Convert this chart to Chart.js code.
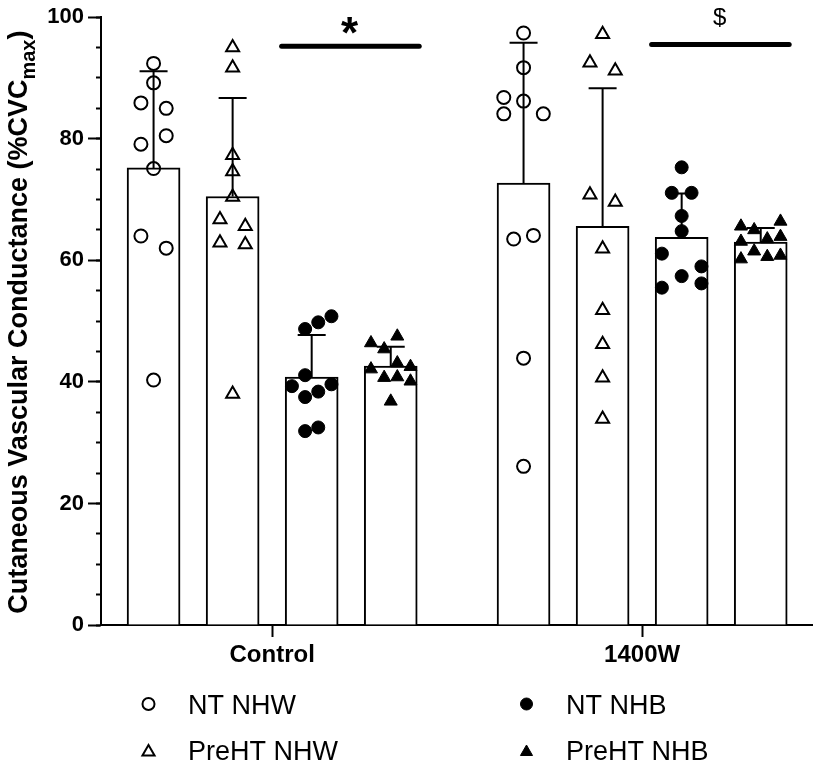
<!doctype html>
<html lang="en">
<head>
<meta charset="utf-8">
<title>Cutaneous Vascular Conductance</title>
<script src="https://cdn.jsdelivr.net/npm/chart.js@4/dist/chart.umd.min.js"></script>
<style>
  * { margin: 0; padding: 0; }
  body { background: #fff; }
  #wrap { width: 822px; height: 768px; }
</style>
</head>
<body>
<div id="wrap"><canvas id="myChart" width="822" height="768"></canvas></div>
<script>
// categories and series
const groups = ['Control', '1400W'];
const seriesNames = ['NT NHW', 'PreHT NHW', 'NT NHB', 'PreHT NHB'];

// bar means [Control, 1400W]
const meanNTNHW = [75.2, 72.7];
const meanPreHTNHW = [70.5, 65.6];
const meanNTNHB = [40.8, 63.8];
const meanPreHTNHB = [42.6, 63.0];

// SD (drawn upward only)
const sdNTNHW = [15.9, 23.1];
const sdPreHTNHW = [16.2, 22.7];
const sdNTNHB = [6.9, 7.2];
const sdPreHTNHB = [3.2, 2.3];

// individual subjects [Control], [1400W]
const ptsNTNHW = [
  [92.4, 89.2, 85.9, 85.0, 80.5, 79.1, 75.1, 64.0, 62.0, 40.3],
  [97.4, 91.7, 86.8, 86.2, 84.1, 84.1, 63.5, 64.1, 43.9, 26.1]
];
const ptsPreHTNHW = [
  [95.0, 91.7, 77.3, 74.6, 70.4, 66.7, 65.6, 62.9, 62.6, 38.0],
  [97.2, 92.5, 91.2, 70.8, 69.6, 61.9, 51.8, 46.2, 40.7, 33.9]
];
const ptsNTNHB = [
  [48.7, 49.8, 50.8, 41.1, 39.3, 39.6, 38.4, 37.5, 31.9, 32.5],
  [75.3, 71.1, 71.1, 67.3, 64.8, 61.1, 59.0, 57.4, 55.5, 56.2]
];
const ptsPreHTNHB = [
  [47.5, 46.4, 45.4, 43.1, 42.1, 42.5, 40.7, 40.8, 40.1, 36.8],
  [65.6, 65.0, 66.4, 63.1, 63.5, 63.9, 61.5, 60.6, 60.8, 60.2]
];

// y axis ticks
const yTicksMajor = [0, 20, 40, 60, 80, 100];
const yMinorStep = 5;

// significance marks per group
const sigLabels = ['*', '$'];

// ---- layout (not data) ----
const xMin = 0, xMax = 9;
const groupPos = [2.165, 6.845];
const barOffset = [-1.5, -0.5, 0.5, 1.5];
// sideways spread of the dots, in bar steps
const jitNTNHW = [
  [0, 0, -0.16, 0.16, 0.16, -0.16, 0, -0.16, 0.16, 0],
  [0, 0, -0.25, 0, -0.25, 0.25, -0.125, 0.125, 0, 0]
];
const jitPreHTNHW = [
  [0, 0, 0, 0, 0, -0.16, 0.16, -0.16, 0.16, 0],
  [0, -0.16, 0.16, -0.16, 0.16, 0, 0, 0, 0, 0]
];
const jitNTNHB = [
  [-0.083, 0.083, 0.25, -0.083, -0.25, 0.25, 0.083, -0.083, -0.083, 0.083],
  [0, -0.125, 0.125, 0, 0, -0.25, 0.25, 0, -0.25, 0.25]
];
const jitPreHTNHB = [
  [0.083, -0.25, -0.083, 0.083, -0.25, 0.25, -0.083, 0.083, 0.25, 0],
  [-0.25, -0.083, 0.25, -0.25, 0.083, 0.25, -0.083, 0.083, 0.25, -0.25]
];

const means = [meanNTNHW, meanPreHTNHW, meanNTNHB, meanPreHTNHB];
const sds = [sdNTNHW, sdPreHTNHW, sdNTNHB, sdPreHTNHB];
const pts = [ptsNTNHW, ptsPreHTNHW, ptsNTNHB, ptsPreHTNHB];
const jits = [jitNTNHW, jitPreHTNHW, jitNTNHB, jitPreHTNHB];
const marker = [
  { style: 'circle', fill: 'rgba(0,0,0,0)', r: 6.5, bw: 2 },
  { style: 'triangle', fill: 'rgba(0,0,0,0)', r: 7.5, bw: 2 },
  { style: 'circle', fill: '#000', r: 6.5, bw: 1 },
  { style: 'triangle', fill: '#000', r: 7.5, bw: 1 }
];

const FONT = '"Liberation Sans", Arial, sans-serif';
Chart.defaults.font.family = FONT;
Chart.defaults.color = '#000';

const datasets = [];
seriesNames.forEach((name, si) => {
  const data = [];
  groups.forEach((g, gi) => {
    pts[si][gi].forEach((v, k) => {
      data.push({ x: groupPos[gi] + barOffset[si] + jits[si][gi][k], y: v });
    });
  });
  datasets.push({
    type: 'scatter',
    label: name,
    data: data,
    pointStyle: marker[si].style,
    pointRadius: marker[si].r,
    pointHoverRadius: marker[si].r,
    pointBackgroundColor: marker[si].fill,
    pointBorderColor: '#000',
    pointBorderWidth: marker[si].bw,
    showLine: false,
    order: 1
  });
});
seriesNames.forEach((name, si) => {
  datasets.push({
    type: 'bar',
    label: name + ' mean',
    data: groups.map((g, gi) => ({ x: groupPos[gi] + barOffset[si], y: means[si][gi] })),
    backgroundColor: '#fff',
    borderColor: '#000',
    borderWidth: 2,
    barThickness: 53,
    grouped: false,
    order: 2
  });
});

// SD whiskers
const errorBars = {
  id: 'errorBars',
  afterDatasetsDraw(chart) {
    const { ctx, scales: { x, y } } = chart;
    ctx.save();
    ctx.strokeStyle = '#000';
    ctx.lineWidth = 2;
    means.forEach((m, si) => m.forEach((v, gi) => {
      const px = x.getPixelForValue(groupPos[gi] + barOffset[si]);
      const y0 = y.getPixelForValue(v);
      const y1 = y.getPixelForValue(v + sds[si][gi]);
      ctx.beginPath();
      ctx.moveTo(px, y0); ctx.lineTo(px, y1);
      ctx.moveTo(px - 14, y1); ctx.lineTo(px + 14, y1);
      ctx.stroke();
    }));
    ctx.restore();
  }
};

// significance bars over NHB pairs
const sigMarks = {
  id: 'sigMarks',
  afterDraw(chart) {
    const { ctx, scales: { x, y } } = chart;
    ctx.save();
    ctx.strokeStyle = '#000';
    ctx.fillStyle = '#000';
    ctx.lineWidth = 5;
    ctx.lineCap = 'round';
    const lineLvl = [95.2, 95.5];
    const symLvl = [98.7, 100];
    sigLabels.forEach((lab, gi) => {
      const yl = y.getPixelForValue(lineLvl[gi]);
      ctx.beginPath();
      ctx.moveTo(x.getPixelForValue(groupPos[gi] + 0.12), yl);
      ctx.lineTo(x.getPixelForValue(groupPos[gi] + 1.86), yl);
      ctx.stroke();
      ctx.font = lab === '*' ? 'bold 44px ' + FONT : '24px ' + FONT;
      ctx.textAlign = 'center';
      ctx.textBaseline = 'alphabetic';
      const m = ctx.measureText(lab);
      const cy = y.getPixelForValue(symLvl[gi]);
      ctx.fillText(lab, x.getPixelForValue(groupPos[gi] + 0.98),
        cy + (m.actualBoundingBoxAscent - m.actualBoundingBoxDescent) / 2);
    });
    ctx.restore();
  }
};

// y title with subscript
const yTitle = {
  id: 'yTitle',
  afterDraw(chart) {
    const ctx = chart.ctx;
    const cy = (chart.chartArea.top + chart.chartArea.bottom) / 2 + 1;
    const main = 'Cutaneous Vascular Conductance (%CVC', sub = 'max', end = ')';
    const fMain = 'bold 27px ' + FONT, fSub = 'bold 20px ' + FONT;
    ctx.save();
    ctx.translate(27, cy);
    ctx.rotate(-Math.PI / 2);
    ctx.fillStyle = '#000';
    ctx.textAlign = 'left';
    ctx.textBaseline = 'alphabetic';
    ctx.font = fMain;
    const w1 = ctx.measureText(main).width, w3 = ctx.measureText(end).width;
    ctx.font = fSub;
    const w2 = ctx.measureText(sub).width;
    const sx = -(w1 + w2 + w3) / 2;
    ctx.font = fMain; ctx.fillText(main, sx, 0);
    ctx.font = fSub; ctx.fillText(sub, sx + w1, 8);
    ctx.font = fMain; ctx.fillText(end, sx + w1 + w2, 0);
    ctx.restore();
  }
};

// two-column legend under the axis
const legendBox = {
  id: 'legendBox',
  afterDraw(chart) {
    const ctx = chart.ctx;
    const cols = [148.5, 526.5];
    const rows = [704, 750];
    ctx.save();
    ctx.font = '27px ' + FONT;
    ctx.fillStyle = '#000';
    ctx.textBaseline = 'alphabetic';
    seriesNames.forEach((name, si) => {
      const col = si < 2 ? 0 : 1, row = si % 2;
      const mx = cols[col], my = rows[row];
      ctx.strokeStyle = '#000';
      ctx.fillStyle = marker[si].fill;
      ctx.lineWidth = marker[si].bw;
      Chart.helpers.drawPoint(ctx, {
        pointStyle: marker[si].style, radius: marker[si].r - 0.5,
        rotation: 0, borderWidth: marker[si].bw
      }, mx, my + (marker[si].style === 'triangle' ? 2 : 0));
      ctx.fillStyle = '#000';
      ctx.fillText(name, mx + 39.5, my + 9.5);
    });
    ctx.restore();
  }
};

new Chart(document.getElementById('myChart'), {
  type: 'bar',
  data: { datasets: datasets },
  plugins: [errorBars, sigMarks, yTitle, legendBox],
  options: {
    responsive: false,
    animation: false,
    events: [],
    layout: { padding: { left: 0, right: 2, top: 15, bottom: 0 } },
    plugins: { legend: { display: false }, tooltip: { enabled: false } },
    scales: {
      x: {
        type: 'linear',
        min: xMin,
        max: xMax,
        offset: false,
        afterFit: (s) => { s.height = 143; },
        afterBuildTicks: (s) => { s.ticks = groupPos.map(v => ({ value: v })); },
        ticks: {
          autoSkip: false,
          maxRotation: 0,
          padding: 4,
          font: { size: 24, weight: 'bold' },
          callback: (v, i) => groups[i]
        },
        grid: { display: true, offset: false, drawOnChartArea: false, drawTicks: true, tickLength: 12, tickWidth: 2, tickColor: '#000' },
        border: { display: true, color: '#000', width: 2 }
      },
      y: {
        type: 'linear',
        position: 'left',
        weight: 1,
        min: 0,
        max: 100,
        afterFit: (s) => { s.width = 101; },
        afterBuildTicks: (s) => { s.ticks = yTicksMajor.map(v => ({ value: v })); },
        ticks: { padding: 4, font: { size: 22, weight: 'bold' } },
        grid: { display: true, drawOnChartArea: false, drawTicks: true, tickLength: 13, tickWidth: 2, tickColor: '#000' },
        border: { display: true, color: '#000', width: 2 }
      },
      yMinor: {
        type: 'linear',
        position: 'left',
        weight: 0,
        min: 0,
        max: 100,
        afterFit: (s) => { s.width = 0; },
        ticks: { display: false, stepSize: yMinorStep },
        grid: { display: true, drawOnChartArea: false, drawTicks: true, tickLength: 5, tickWidth: 2, tickColor: '#000' },
        border: { display: false }
      }
    }
  }
});
</script>
</body>
</html>
